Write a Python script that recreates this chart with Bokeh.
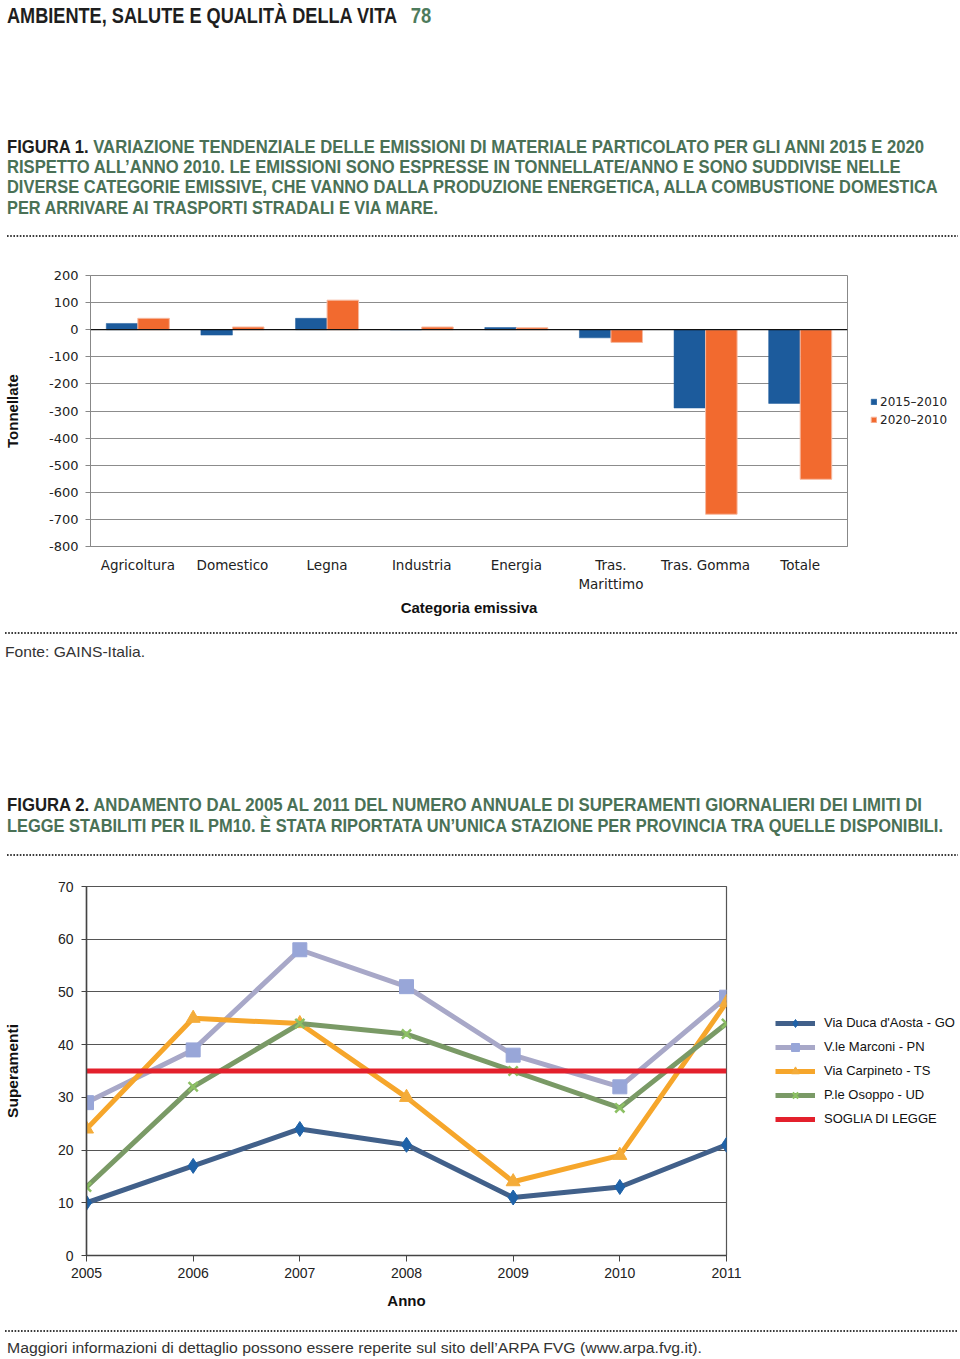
from bokeh.plotting import figure
from bokeh.models import (ColumnDataSource, Div, Legend, LegendItem, FixedTicker,
                          Span, FactorRange, Range1d)
from bokeh.layouts import row
from bokeh.transform import dodge
from bokeh.embed import file_html
from bokeh.resources import INLINE

# ---------------- Figure 1 data ----------------
categories = ["Agricoltura", "Domestico", "Legna", "Industria", "Energia",
              "Tras.\nMarittimo", "Tras. Gomma", "Totale"]
var_2015_2010 = [23, -20, 42, 0, 8, -30, -289, -272]
var_2020_2010 = [42, 10, 109, 10, 7, -47, -681, -552]
series_fig1 = ["2015\u20132010", "2020\u20132010"]
y1_ticks = [200, 100, 0, -100, -200, -300, -400, -500, -600, -700, -800]
y1_labels = ["200", "100", "0", "-100", "-200", "-300", "-400", "-500", "-600", "-700", "-800"]

# ---------------- Figure 2 data ----------------
years = [2005, 2006, 2007, 2008, 2009, 2010, 2011]
go_duca_aosta = [10, 17, 24, 21, 11, 13, 21]
pn_marconi = [29, 39, 58, 51, 38, 32, 49]
ts_carpineto = [24, 45, 44, 30, 14, 19, 48]
ud_osoppo = [13, 32, 44, 42, 35, 28, 44]
soglia_legge = [35, 35, 35, 35, 35, 35, 35]
series_fig2 = ["Via Duca d'Aosta - GO", "V.le Marconi - PN", "Via Carpineto - TS",
               "P.le Osoppo - UD", "SOGLIA DI LEGGE"]
y2_ticks = [0, 10, 20, 30, 40, 50, 60, 70]

# ---------------- texts ----------------
header_main = "AMBIENTE, SALUTE E QUALITÀ DELLA VITA"
header_page = "78"
fig1_caption = [
    ("FIGURA 1.", " VARIAZIONE TENDENZIALE DELLE EMISSIONI DI MATERIALE PARTICOLATO PER GLI ANNI 2015 E 2020"),
    ("", "RISPETTO ALL\u2019ANNO 2010. LE EMISSIONI SONO ESPRESSE IN TONNELLATE/ANNO E SONO SUDDIVISE NELLE"),
    ("", "DIVERSE CATEGORIE EMISSIVE, CHE VANNO DALLA PRODUZIONE ENERGETICA, ALLA COMBUSTIONE DOMESTICA"),
    ("", "PER ARRIVARE AI TRASPORTI STRADALI E VIA MARE."),
]
fig1_source = "Fonte: GAINS-Italia."
fig2_caption = [
    ("FIGURA 2.", " ANDAMENTO DAL 2005 AL 2011 DEL NUMERO ANNUALE DI SUPERAMENTI GIORNALIERI DEI LIMITI DI"),
    ("", "LEGGE STABILITI PER IL PM10. \u00c8 STATA RIPORTATA UN\u2019UNICA STAZIONE PER PROVINCIA TRA QUELLE DISPONIBILI."),
]
footer_note = "Maggiori informazioni di dettaglio possono essere reperite sul sito dell\u2019ARPA FVG (www.arpa.fvg.it)."

GREEN = "#4a7156"
DARK = "#1e1e1e"
PAGE_W = 960


def svg_text(x, y, length, parts, size, weight, sy=1.0, family="Roboto"):
    spans = "".join(
        f'<tspan fill="{c}">{t}</tspan>' for t, c in parts if t)
    return (f'<text transform="scale(1,{sy})" x="{x}" y="{y / sy:.2f}" textLength="{length}" '
            f'lengthAdjust="spacingAndGlyphs" '
            f'font-family="{family}" font-size="{size}" font-weight="{weight}" '
            f'xml:space="preserve">{spans}</text>')


def dotted(y, x0, x1):
    return (f'<line x1="{x0}" y1="{y}" x2="{x1}" y2="{y}" stroke="#3a3a3a" '
            f'stroke-width="2" stroke-dasharray="1.6 1.6"/>')


def make_div(inner, h):
    svg = (f'<svg xmlns="http://www.w3.org/2000/svg" width="{PAGE_W}" height="{h}" '
           f'style="display:block">{inner}</svg>')
    return Div(text=svg, width=PAGE_W, height=h, margin=0)


def legend_panel(width, height, top, bottom, x_range, y_range):
    """A bare companion figure that only hosts the legend, beside the chart."""
    f = figure(width=width, height=height, x_range=x_range, y_range=y_range,
               output_backend="svg", toolbar_location=None,
               x_axis_location=None, y_axis_location=None,
               min_border_left=0, min_border_right=0,
               min_border_top=top, min_border_bottom=bottom)
    f.grid.visible = False
    f.outline_line_color = None
    return f


CAP_SIZE, CAP_SY = 15.6, 1.13

# ---- Div 1: header + caption fig 1 (page y 0..245) ----
inner1 = svg_text(7, 22.7, 390, [(header_main, DARK)], 17.5, 700, sy=1.24)
inner1 += svg_text(410.7, 22.7, 20.5, [(header_page, "#4e7b5c")], 17.5, 600, sy=1.24)
cap1_len = [917, 893.7, 930.7, 431]
cap1_base = [152.7, 173.3, 193.5, 213.5]
for (blk, grn), L, b in zip(fig1_caption, cap1_len, cap1_base):
    inner1 += svg_text(7, b, L, [(blk, DARK), (grn, GREEN)], CAP_SIZE, 700, sy=CAP_SY)
inner1 += dotted(236, 7, 958)
div1 = make_div(inner1, 245)

# ---------------- Figure 1 (page y 245..625) ----------------
src1 = ColumnDataSource(dict(cat=categories, v15=var_2015_2010, v20=var_2020_2010))
P1_W = 849
p1 = figure(x_range=FactorRange(factors=categories, range_padding=0, factor_padding=0),
            y_range=Range1d(-800, 200), width=P1_W, height=380,
            output_backend="svg", toolbar_location=None,
            min_border_left=88, min_border_right=2, min_border_top=30, min_border_bottom=79)


def bars(fig):
    a = fig.vbar(x=dodge("cat", -0.1667, range=fig.x_range), top="v15", width=0.333, source=src1,
                 fill_color="#1c5b9c", line_color="#1c5b9c", line_width=0.5)
    b = fig.vbar(x=dodge("cat", 0.1667, range=fig.x_range), top="v20", width=0.333, source=src1,
                 fill_color="#f26a2f", line_color="#f6b9a0", line_width=1)
    return a, b


r15, r20 = bars(p1)
p1.add_layout(Span(location=0, dimension="width", line_color="#111111", line_width=1.2))

p1.yaxis.ticker = FixedTicker(ticks=y1_ticks)
p1.yaxis.major_label_overrides = dict(zip(y1_ticks, y1_labels))
p1.yaxis.major_tick_out = 5
p1.yaxis.major_tick_in = 0
p1.yaxis.minor_tick_line_color = None
p1.yaxis.major_tick_line_color = "#888888"
p1.yaxis.axis_line_color = "#888888"
p1.yaxis.major_label_standoff = 7
p1.yaxis.major_label_text_font = "DejaVu Sans"
p1.yaxis.major_label_text_font_size = "13px"
p1.yaxis.major_label_text_color = "#222222"
p1.yaxis.axis_label = "Tonnellate"
p1.yaxis.axis_label_text_font = "Liberation Sans"
p1.yaxis.axis_label_text_font_style = "bold"
p1.yaxis.axis_label_text_font_size = "15px"
p1.yaxis.axis_label_text_color = "#111111"
p1.yaxis.axis_label_standoff = 25

p1.xaxis.major_tick_line_color = None
p1.xaxis.major_tick_out = 0
p1.xaxis.major_tick_in = 0
p1.xaxis.axis_line_color = "#888888"
p1.xaxis.major_label_standoff = 10
p1.xaxis.major_label_text_font = "DejaVu Sans"
p1.xaxis.major_label_text_font_size = "13.5px"
p1.xaxis.major_label_text_color = "#222222"
p1.xaxis.axis_label = "Categoria emissiva"
p1.xaxis.axis_label_text_font = "Liberation Sans"
p1.xaxis.axis_label_text_font_style = "bold"
p1.xaxis.axis_label_text_font_size = "15px"
p1.xaxis.axis_label_text_color = "#111111"
p1.xaxis.axis_label_standoff = 4

p1.xgrid.grid_line_color = None
p1.ygrid.ticker = FixedTicker(ticks=y1_ticks)
p1.ygrid.grid_line_color = "#8c8c8c"
p1.outline_line_color = "#888888"

# legend beside figure 1 (its proxy bars fall outside the companion's factor range)
lf1 = legend_panel(PAGE_W - P1_W, 380, 30, 79,
                   FactorRange(factors=["legend"], range_padding=0), Range1d(-800, 200))
lr15, lr20 = bars(lf1)
leg1 = Legend(items=[LegendItem(label=series_fig1[0], renderers=[lr15]),
                     LegendItem(label=series_fig1[1], renderers=[lr20])],
              location="center_left", padding=0, margin=870 - P1_W, spacing=4,
              glyph_width=7, glyph_height=7, label_height=14, label_standoff=3,
              label_text_font="DejaVu Sans", label_text_font_size="12px",
              label_text_color="#222222",
              background_fill_alpha=0, border_line_alpha=0)
lf1.add_layout(leg1)
row1 = row(p1, lf1, spacing=0)

# ---- Div 2: source + caption fig 2 (page y 625..866) ----
inner2 = dotted(8, 5, 958)
inner2 += svg_text(5, 32, 140, [(fig1_source, "#333333")], 15, 300)
cap2_len = [915, 936]
cap2_base = [186.5, 207.5]
for (blk, grn), L, b in zip(fig2_caption, cap2_len, cap2_base):
    inner2 += svg_text(7, b, L, [(blk, DARK), (grn, GREEN)], CAP_SIZE, 700, sy=CAP_SY)
inner2 += dotted(230, 7, 958)
div2 = make_div(inner2, 241)

# ---------------- Figure 2 (page y 866..1312) ----------------
src2 = ColumnDataSource(dict(year=years, go=go_duca_aosta, pn=pn_marconi, ts=ts_carpineto,
                             ud=ud_osoppo, soglia=soglia_legge))
P2_W = 745
p2 = figure(x_range=Range1d(2005, 2011), y_range=Range1d(0, 70), width=P2_W, height=446,
            output_backend="svg", toolbar_location=None,
            min_border_left=85, min_border_right=19, min_border_top=20, min_border_bottom=57)


def lines(fig):
    out = []
    out.append((fig.line("year", "go", source=src2, line_color="#41608a", line_width=5),
                fig.scatter("year", "go", source=src2, marker="diamond", size=15,
                            fill_color="#1f62a8", line_color="#1f62a8")))
    out.append((fig.line("year", "pn", source=src2, line_color="#a8a8c8", line_width=5),
                fig.scatter("year", "pn", source=src2, marker="square", size=14,
                            fill_color="#98a6d8", line_color="#98a6d8")))
    out.append((fig.line("year", "ts", source=src2, line_color="#f6a62b", line_width=5),
                fig.scatter("year", "ts", source=src2, marker="triangle", size=14,
                            fill_color="#f4ac3a", line_color="#f4ac3a")))
    out.append((fig.line("year", "ud", source=src2, line_color="#7a9a66", line_width=5),
                fig.scatter("year", "ud", source=src2, marker="x", size=13,
                            line_color="#8cc063", line_width=2.5)))
    out.append((fig.line("year", "soglia", source=src2, line_color="#e3202c", line_width=5),))
    return out


lines(p2)

p2.xaxis.ticker = FixedTicker(ticks=years)
p2.yaxis.ticker = FixedTicker(ticks=y2_ticks)
for ax in (p2.xaxis, p2.yaxis):
    ax.major_label_text_font = "Liberation Sans"
    ax.major_label_text_font_size = "14px"
    ax.major_label_text_color = "#222222"
    ax.minor_tick_line_color = None
    ax.major_tick_in = 0
    ax.major_tick_line_color = "#444444"
    ax.axis_line_color = "#444444"
    ax.axis_line_width = 1.5
    ax.axis_label_text_font = "Liberation Sans"
    ax.axis_label_text_font_style = "bold"
    ax.axis_label_text_color = "#111111"
p2.xaxis.major_tick_out = 6
p2.xaxis.major_label_standoff = 6
p2.xaxis.axis_label = "Anno"
p2.xaxis.axis_label_text_font_size = "15px"
p2.xaxis.axis_label_standoff = 11
p2.yaxis.major_tick_out = 5
p2.yaxis.major_label_standoff = 8
p2.yaxis.axis_label = "Superamenti"
p2.yaxis.axis_label_text_font_size = "15.5px"
p2.yaxis.axis_label_standoff = 34

p2.xgrid.grid_line_color = None
p2.ygrid.ticker = FixedTicker(ticks=y2_ticks)
p2.ygrid.grid_line_color = "#555555"
p2.ygrid.grid_line_width = 1.2
p2.outline_line_color = "#555555"
p2.outline_line_width = 1.2

# legend beside figure 2 (its proxy lines fall outside the companion's ranges)
lf2 = legend_panel(PAGE_W - P2_W, 446, 20, 57, Range1d(0, 1), Range1d(5000, 6000))
lr = lines(lf2)
leg2 = Legend(items=[LegendItem(label=lab, renderers=list(rs)) for lab, rs in zip(series_fig2, lr)],
              location="center_left", padding=0, margin=775 - P2_W, spacing=4,
              glyph_width=40, glyph_height=20, label_height=20, label_standoff=9,
              label_text_font="Liberation Sans", label_text_font_size="13px",
              label_text_color="#111111",
              background_fill_alpha=0, border_line_alpha=0)
lf2.add_layout(leg2)
row2 = row(p2, lf2, spacing=0)

# ---- Div 3: footer (page y 1312..1359) ----
inner3 = dotted(19, 5, 958)
inner3 += svg_text(7, 41, 695, [(footer_note, "#333333")], 15.5, 300)
div3 = make_div(inner3, 47)

open("out.html", "w").write(file_html([div1, row1, div2, row2, div3], INLINE))
